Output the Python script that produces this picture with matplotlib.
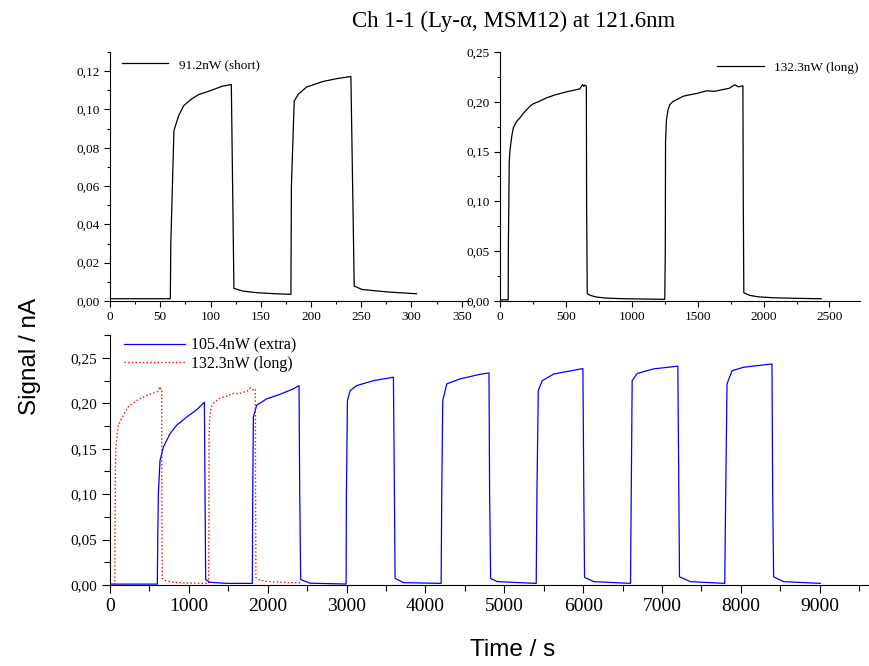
import matplotlib
matplotlib.use('Agg')
import matplotlib.pyplot as plt
from matplotlib.ticker import MultipleLocator, FuncFormatter

# donnees : 91.2nW (short)
short_t = [0, 60, 60.5, 63.6, 68.5, 73.4, 81.5, 88, 101, 111, 120.7,
           123.3, 132, 147, 165, 180, 180.5, 183.3, 187.5, 195.7, 212, 225, 239.7,
           243, 251, 277, 305]
short_v = [0.0012, 0.0012, 0.03, 0.089, 0.097, 0.102, 0.1056, 0.1077, 0.110, 0.112, 0.113,
           0.0066, 0.0052, 0.0043, 0.0038, 0.0035, 0.06, 0.1044, 0.108, 0.1117, 0.1146, 0.116, 0.1172,
           0.0078, 0.006, 0.0047, 0.0038]

# 132.3nW (long)
long_t = [0, 62, 63, 70, 76, 90, 101, 125, 152, 180, 202, 230, 253, 290, 354, 420, 505, 560, 606,
          626, 636, 644, 655,
          657, 662, 690, 732, 800, 934, 1100, 1250,
          1254, 1256, 1263, 1275, 1288, 1310, 1338, 1390, 1439, 1500, 1566, 1630, 1692, 1740, 1780, 1810, 1843,
          1846, 1850, 1894, 1960, 2071, 2250, 2437]
long_v = [0.0012, 0.0012, 0.05, 0.14, 0.152, 0.166, 0.174, 0.180, 0.184, 0.189, 0.192, 0.196, 0.198,
          0.200, 0.204, 0.207, 0.210, 0.2115, 0.213, 0.2173, 0.2155, 0.2168, 0.2157,
          0.10, 0.0073, 0.0055, 0.004, 0.003, 0.0023, 0.002, 0.0017,
          0.05, 0.16, 0.182, 0.192, 0.197, 0.200, 0.202, 0.2055, 0.207, 0.2085, 0.211, 0.2105, 0.2123,
          0.2135, 0.217, 0.215, 0.216,
          0.10, 0.0083, 0.0057, 0.0042, 0.0033, 0.0027, 0.0023]

# 105.4nW (extra)
extra_t = [0, 600, 605, 613, 634, 677, 761, 846, 973, 1099, 1197,
           1205, 1213, 1268, 1480, 1805,
           1810, 1818, 1860, 1987, 2156, 2325, 2397,
           2406, 2418, 2537, 2994,
           2998, 3011, 3044, 3129, 3340, 3594,
           3607, 3615, 3721, 4199,
           4207, 4220, 4271, 4440, 4693, 4806,
           4814, 4827, 4911, 5405,
           5414, 5431, 5481, 5629, 5997,
           6009, 6018, 6136, 6601,
           6610, 6622, 6686, 6897, 7201,
           7214, 7222, 7361, 7796,
           7808, 7825, 7889, 8036, 8395,
           8404, 8416, 8543, 9008]
extra_v = [0.001, 0.001, 0.05, 0.10, 0.137, 0.152, 0.1666, 0.176, 0.185, 0.193, 0.2013,
           0.10, 0.006, 0.003, 0.0018, 0.0018,
           0.10, 0.185, 0.198, 0.205, 0.210, 0.216, 0.2196,
           0.10, 0.006, 0.002, 0.0011,
           0.10, 0.203, 0.214, 0.2196, 0.225, 0.2288,
           0.10, 0.0073, 0.0026, 0.0018,
           0.10, 0.203, 0.2215, 0.227, 0.232, 0.2335,
           0.10, 0.0073, 0.0037, 0.0018,
           0.10, 0.214, 0.225, 0.2324, 0.2383,
           0.10, 0.0084, 0.0037, 0.0018,
           0.10, 0.225, 0.233, 0.238, 0.241,
           0.10, 0.009, 0.0037, 0.0018,
           0.10, 0.2215, 0.236, 0.2398, 0.2434,
           0.10, 0.009, 0.0037, 0.0018]

serif = 'Liberation Serif'
sans = 'Liberation Sans'

virgule = FuncFormatter(lambda v, p: ('%.2f' % v).replace('.', ','))
entier = FuncFormatter(lambda v, p: '%d' % v)


def style_axe(ax, size, maj, mino):
    ax.spines['top'].set_visible(False)
    ax.spines['right'].set_visible(False)
    ax.xaxis.set_major_formatter(entier)
    ax.yaxis.set_major_formatter(virgule)
    ax.tick_params(which='major', direction='out', length=maj, width=0.8, labelsize=size)
    ax.tick_params(which='minor', direction='out', length=mino, width=0.8)
    for lab in ax.get_xticklabels() + ax.get_yticklabels():
        lab.set_fontfamily(serif)


fig = plt.figure(figsize=(8.69, 6.66), dpi=100)

# haut gauche
ax1 = fig.add_axes([0.1266, 0.548, 0.414, 0.374])
ax1.plot(short_t, short_v, color='k', lw=0.9, label='91.2nW (short)')
ax1.set_xlim(0, 358)
ax1.set_ylim(0, 0.13)
ax1.xaxis.set_major_locator(MultipleLocator(50))
ax1.xaxis.set_minor_locator(MultipleLocator(25))
ax1.yaxis.set_major_locator(MultipleLocator(0.02))
ax1.yaxis.set_minor_locator(MultipleLocator(0.01))
style_axe(ax1, 9.5, 4, 2.5)
ax1.legend(loc='upper left', bbox_to_anchor=(0.0, 1.02), frameon=False, handlelength=3.5,
           prop={'family': serif, 'size': 9.5})

# haut droite
ax2 = fig.add_axes([0.5754, 0.548, 0.414, 0.374])
ax2.plot(long_t, long_v, color='k', lw=0.9, label='132.3nW (long)')
ax2.set_xlim(0, 2730)
ax2.set_ylim(0, 0.25)
ax2.xaxis.set_major_locator(MultipleLocator(500))
ax2.xaxis.set_minor_locator(MultipleLocator(250))
ax2.yaxis.set_major_locator(MultipleLocator(0.05))
ax2.yaxis.set_minor_locator(MultipleLocator(0.025))
style_axe(ax2, 9.5, 4, 2.5)
ax2.legend(loc='upper right', bbox_to_anchor=(1.03, 1.01), frameon=False, handlelength=3.5,
           prop={'family': serif, 'size': 9.5})

# bas
ax3 = fig.add_axes([0.1266, 0.1216, 0.872, 0.375])
ax3.plot(extra_t, extra_v, color='#0000ff', lw=0.9, label='105.4nW (extra)')
ax3.plot(long_t, long_v, color='red', lw=1.0, ls=':', label='132.3nW (long)')
ax3.set_xlim(0, 9610)
ax3.set_ylim(0, 0.275)
ax3.xaxis.set_major_locator(MultipleLocator(1000))
ax3.xaxis.set_minor_locator(MultipleLocator(500))
ax3.yaxis.set_major_locator(MultipleLocator(0.05))
ax3.yaxis.set_minor_locator(MultipleLocator(0.025))
style_axe(ax3, 11, 6, 4)
for lab in ax3.get_xticklabels():
    lab.set_fontsize(14)
ax3.legend(loc='upper left', bbox_to_anchor=(0.0, 1.05), frameon=False, handlelength=3.8,
           handletextpad=0.4, labelspacing=0.15, prop={'family': serif, 'size': 11.5})

fig.text(0.591, 0.968, 'Ch 1-1 (Ly-\u03b1, MSM12) at 121.6nm', ha='center', va='center',
         family=serif, fontsize=16.5)
fig.text(0.035, 0.465, 'Signal / nA', rotation=90, ha='center', va='center',
         family=sans, fontsize=17.5)
fig.text(0.59, 0.024, 'Time / s', ha='center', va='center', family=sans, fontsize=17.5)

fig.savefig('out.png', dpi=100)
